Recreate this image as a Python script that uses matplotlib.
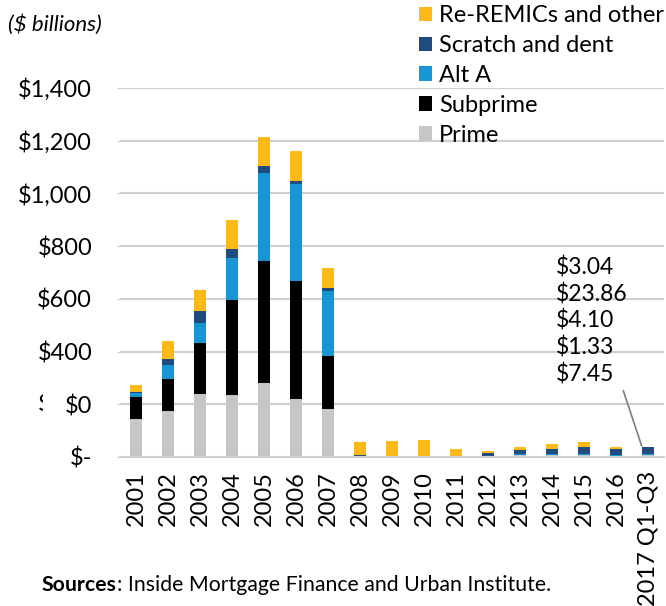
import numpy as np
import matplotlib.pyplot as plt
from matplotlib.patches import Rectangle

plt.rcParams['font.family'] = ['Lato', 'DejaVu Sans']

years = ['2001', '2002', '2003', '2004', '2005', '2006', '2007', '2008', '2009',
         '2010', '2011', '2012', '2013', '2014', '2015', '2016', '2017 Q1-Q3']

# $ billions
prime = [144, 175, 238, 234, 282, 220, 181, 2, 1, 1, 1, 2, 8, 6, 6, 5, 7.45]
subprime = [85, 120, 196, 362, 463, 448, 201, 0.5, 0.3, 0.2, 0.2, 0.5, 0.5, 0.5, 0.5, 0.5, 1.33]
alt_a = [12, 54, 74, 160, 334, 367, 249, 3, 2, 0.5, 0.3, 1, 1, 4, 4, 1, 4.10]
scratch = [4, 24, 45, 33, 26, 13, 11, 1, 1, 0.3, 0.3, 10, 17, 21, 27, 25, 23.86]
other = [28, 67, 82, 110, 110, 113, 76, 52, 57, 61, 28, 8, 13, 18, 20, 8, 3.04]

series = [('Prime', prime, '#c6c6c6'),
          ('Subprime', subprime, '#000000'),
          ('Alt A', alt_a, '#1696d2'),
          ('Scratch and dent', scratch, '#1f4b7f'),
          ('Re-REMICs and other', other, '#fdb918')]

yticks = [0, 200, 400, 600, 800, 1000, 1200, 1400]
ylabels = ['$-', '$0', '$400', '$600', '$800', '$1,000', '$1,200', '$1,400']

fig = plt.figure(figsize=(6.66, 6.06), dpi=100)
ax = fig.add_axes([120 / 666, 1 - 457 / 606, 544 / 666, 369 / 606])

x = np.arange(len(years))
bottom = np.zeros(len(years))
handles = []
for name, vals, col in series:
    vals = np.array(vals, dtype=float)
    b = ax.bar(x, vals, 0.4, bottom=bottom, color=col, label=name, zorder=2)
    handles.append(b)
    bottom += vals

ax.set_xlim(-0.5, len(years) - 0.5)
ax.set_ylim(0, 1400)
ax.set_yticks(yticks)
ax.set_yticklabels(ylabels, fontsize=17)
ax.set_xticks(x)
ax.set_xticklabels(years, rotation=90, fontsize=17, va='top')
ax.grid(axis='y', color='#cfcfcf', lw=1.5, zorder=0)
ax.set_axisbelow(True)
for s in ['top', 'right', 'left']:
    ax.spines[s].set_visible(False)
ax.spines['bottom'].set_color('#cfcfcf')
ax.spines['bottom'].set_linewidth(1.5)
ax.tick_params(axis='y', length=2, color='#cfcfcf', pad=18)
ax.tick_params(axis='x', length=0, pad=10)

# stray, partly hidden "$" left of the 200 tick
t = fig.text(38 / 666, 1 - 405 / 606, '$', fontsize=17, va='center', ha='left')
t.set_clip_path(Rectangle((0, 0), 43, 606, transform=None))

# 2017 breakdown callout
last = len(years) - 1
vals17 = [other[last], scratch[last], alt_a[last], subprime[last], prime[last]]
ax.text(13.13, 762, '\n'.join(f'${v:.2f}' for v in vals17), fontsize=16.5,
        ha='left', va='top', linespacing=1.27)
ax.annotate('', xy=(last - 0.17, bottom[last] - 8), xytext=(15.2, 262),
            arrowprops=dict(arrowstyle='-', color='#7f7f7f', lw=1.2))

leg = fig.legend(handles[::-1], [h.get_label() for h in handles[::-1]],
                 loc='upper left', bbox_to_anchor=(419 / 666, 1 - 5 / 606),
                 frameon=False, fontsize=17, handlelength=0.55, handleheight=0.55,
                 handletextpad=0.3, labelspacing=0.38, borderpad=0, borderaxespad=0)

fig.text(8 / 666, 1 - 25 / 606, '($ billions)', fontsize=16, style='italic', va='center')
src = fig.text(42 / 666, 1 - 585 / 606, 'Sources', fontsize=15.3, weight='bold', va='center')
fig.canvas.draw()
bb = src.get_window_extent()
fig.text(bb.x1 / 666, 1 - 585 / 606, ': Inside Mortgage Finance and Urban Institute.',
         fontsize=15.3, va='center')

fig.savefig('out.png', dpi=100)
